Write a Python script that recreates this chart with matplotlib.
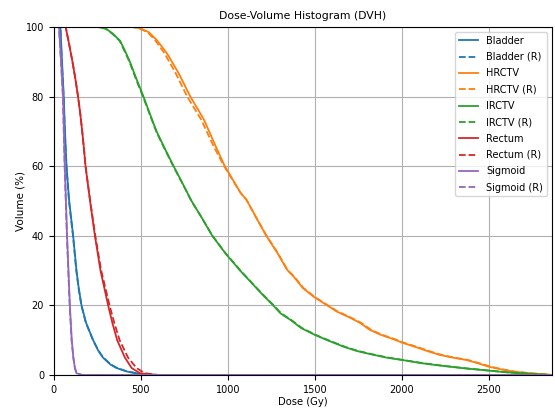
import matplotlib
matplotlib.use("Agg")
import matplotlib.pyplot as plt

# dose (Gy) / volume (%) points
bladder_dose = [0, 38, 47, 57, 64, 73, 88, 111, 130, 143, 159, 185, 226, 255, 282,
                325, 360, 418, 470, 520, 600, 2860]
bladder_vol = [100, 100, 90, 80, 70, 60, 50, 40, 30, 25, 20, 15, 10, 7, 5,
               3, 2, 1, 0.5, 0.2, 0, 0]
bladder_r_dose = [0, 37, 46, 56, 63, 72, 87, 110, 129, 142, 158, 184, 225, 256, 284,
                  328, 364, 422, 476, 528, 610, 2860]
bladder_r_vol = bladder_vol

hrctv_dose = [0, 450, 490, 545, 592, 650, 717, 784, 862, 929, 982, 1073, 1107, 1165,
              1220, 1285, 1340, 1377, 1430, 1492, 1570, 1626, 1700, 1761, 1817, 1880,
              1950, 2000, 2080, 2150, 2218, 2290, 2371, 2440, 2497, 2570, 2641, 2730,
              2810, 2860]
hrctv_vol = [100, 100, 99.7, 98.5, 96.2, 92.4, 86.7, 80, 73.4, 65.8, 60, 52.3, 50.3, 45,
             40, 35, 30.2, 28.3, 25, 22.5, 20, 18.2, 16.5, 14.9, 12.9, 11.5,
             10.3, 9.3, 8, 6.8, 5.75, 5, 4.3, 3.3, 2.4, 1.6, 0.95, 0.5,
             0.2, 0]
hrctv_r_dose = [0, 445, 485, 538, 582, 636, 700, 766, 846, 917, 978, 1073, 1107, 1165,
                1222, 1287, 1342, 1380, 1434, 1496, 1574, 1632, 1706, 1768, 1824, 1888,
                1958, 2008, 2090, 2160, 2228, 2300, 2380, 2450, 2508, 2580, 2650, 2738,
                2815, 2860]
hrctv_r_vol = hrctv_vol

irctv_dose = [0, 250, 300, 340, 381, 410, 437, 475, 515, 552, 590, 638, 688, 740,
              791, 852, 910, 985, 1070, 1139, 1200, 1260, 1302, 1360, 1420, 1500,
              1580, 1666, 1740, 1817, 1910, 2000, 2110, 2218, 2360, 2497, 2590, 2680,
              2780, 2860]
irctv_vol = [100, 100, 99.5, 98, 96, 93, 90, 85, 80, 75, 70, 65, 60, 55,
             50, 45, 40, 35, 30, 26.3, 23, 20, 17.7, 15.8, 13.5, 11.5,
             9.8, 8.1, 6.9, 6.0, 5.0, 4.3, 3.4, 2.7, 1.9, 1.25, 0.8, 0.5,
             0.2, 0]
irctv_r_dose = [0, 248, 298, 337, 378, 407, 434, 472, 512, 550, 588, 636, 686, 739,
                790, 852, 911, 986, 1072, 1141, 1203, 1263, 1306, 1364, 1425, 1505,
                1586, 1672, 1747, 1824, 1918, 2008, 2118, 2226, 2368, 2505, 2598, 2688,
                2785, 2860]
irctv_r_vol = irctv_vol

rectum_dose = [0, 68, 88, 107, 124, 139, 152, 163, 173, 182, 208, 236, 268, 290, 312,
               336, 364, 408, 447, 494, 560, 2860]
rectum_vol = [100, 100, 95, 90, 85, 80, 75, 70, 65, 60, 50, 40, 30, 25, 20,
              15, 10, 5, 2, 0.5, 0, 0]
rectum_r_dose = [0, 68, 88, 107, 124, 139, 152, 163, 173, 182, 209, 238, 272, 296, 320,
                 347, 378, 426, 475, 522, 600, 2860]
rectum_r_vol = rectum_vol

sigmoid_dose = [0, 30, 42, 53, 63, 76, 92, 103, 112, 121, 130, 160, 2860]
sigmoid_vol = [100, 100, 90, 80, 60, 40, 20, 10, 5, 2, 0.5, 0, 0]
sigmoid_r_dose = [0, 29, 41, 52, 62, 75, 91, 102, 112, 121, 131, 165, 2860]
sigmoid_r_vol = sigmoid_vol

series = [
    ("Bladder", bladder_dose, bladder_vol, bladder_r_dose, bladder_r_vol, "#1f77b4"),
    ("HRCTV", hrctv_dose, hrctv_vol, hrctv_r_dose, hrctv_r_vol, "#ff7f0e"),
    ("IRCTV", irctv_dose, irctv_vol, irctv_r_dose, irctv_r_vol, "#2ca02c"),
    ("Rectum", rectum_dose, rectum_vol, rectum_r_dose, rectum_r_vol, "#d62728"),
    ("Sigmoid", sigmoid_dose, sigmoid_vol, sigmoid_r_dose, sigmoid_r_vol, "#9467bd"),
]

plt.rcParams["font.size"] = 7

fig = plt.figure(figsize=(5.55, 4.08), dpi=100)
ax = fig.add_axes([0.097, 0.081, 0.897, 0.853])

for name, d, v, dr, vr, c in series:
    ax.plot(d, v, "-", color=c, linewidth=1.3, label=name)
    ax.plot(dr, vr, "--", color=c, linewidth=1.3, label=name + " (R)")

ax.set_xlim(0, 2860)
ax.set_ylim(0, 100)
ax.set_title("Dose-Volume Histogram (DVH)", fontsize=7.8)
ax.set_xlabel("Dose (Gy)", fontsize=7.2, labelpad=2)
ax.set_ylabel("Volume (%)", fontsize=7.5, labelpad=0)
ax.grid(True, color="#b0b0b0", linewidth=0.8)
ax.tick_params(labelsize=7)
ax.legend(loc="upper right", fontsize=7, labelspacing=0.65)

fig.savefig("out.png", dpi=100)
